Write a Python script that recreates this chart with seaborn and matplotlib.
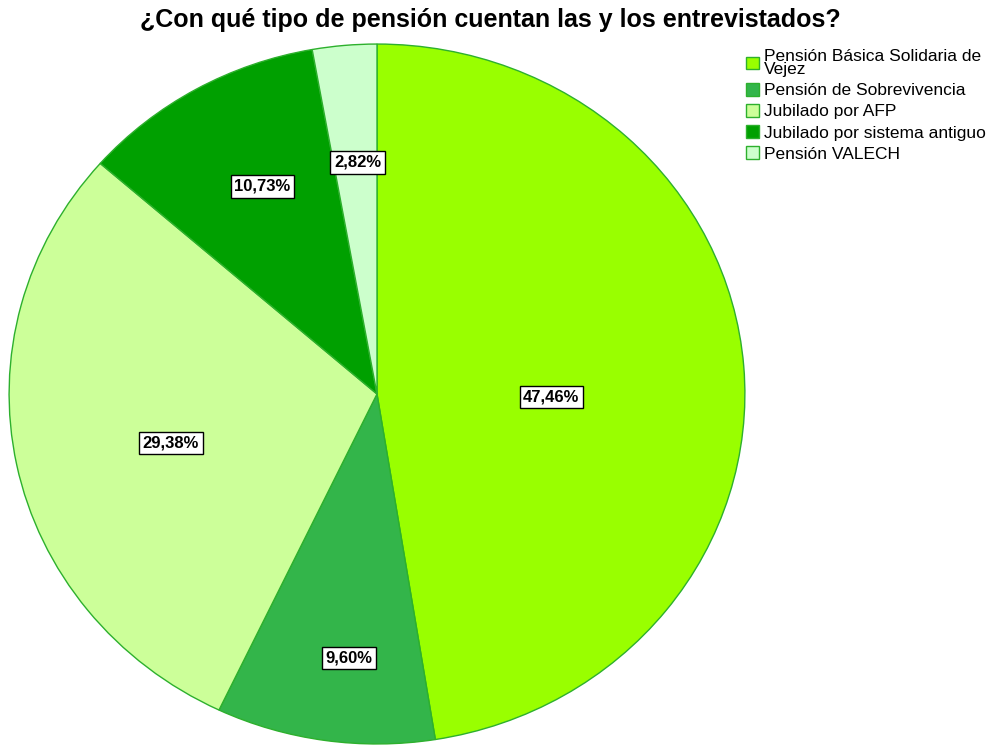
import matplotlib
matplotlib.use("Agg")
import matplotlib.pyplot as plt
import seaborn as sns
import numpy as np

categories = ["Pensión Básica Solidaria de\nVejez", "Pensión de Sobrevivencia",
              "Jubilado por AFP", "Jubilado por sistema antiguo", "Pensión VALECH"]
values = [47.46, 9.60, 29.38, 10.73, 2.82]
colors = ["#99FF00", "#33B54A", "#CCFF99", "#00A000", "#CCFFCC"]
# label placement (radius, angle offset from wedge middle, degrees)
label_radius = [0.474, 0.759, 0.578, 0.670, 0.664]
label_angle_shift = [-5.6, 2.4, 2.3, -1.75, -0.55]

sns.set_theme(style="white")
plt.rcParams['font.family'] = ['Liberation Sans', 'DejaVu Sans']
plt.rcParams['text.color'] = 'black'

fig = plt.figure(figsize=(9.87, 7.47), dpi=100)
ax = fig.add_axes([8/987, 2/747, 738/987, 702/747])

wedges, _ = ax.pie(values, colors=colors, startangle=90, counterclock=False,
                   wedgeprops=dict(edgecolor="#2DB02D", linewidth=1.0))
ax.set_aspect('auto')
ax.set_xlim(-1.003, 1.003)
ax.set_ylim(-1.003, 1.003)
ax.axis('off')

for w, v, r, s in zip(wedges, values, label_radius, label_angle_shift):
    ang = np.deg2rad((w.theta1 + w.theta2) / 2 + s)
    ax.text(r*np.cos(ang), r*np.sin(ang), f"{v:.2f}%".replace('.', ','),
            ha='center', va='center', fontsize=12, fontweight='bold', color='black',
            bbox=dict(boxstyle='square,pad=0.22', facecolor='white', edgecolor='black', linewidth=1))

fig.text(490/987, 1 - 20/747, "¿Con qué tipo de pensión cuentan las y los entrevistados?",
         ha='center', va='center', fontsize=18, fontweight='bold', color='black')

leg = fig.legend(wedges, categories, loc='upper left', bbox_to_anchor=(746/987, 1 - 49/747),
                 frameon=False, fontsize=12.5, handlelength=0.75, handleheight=0.75,
                 handletextpad=0.3, labelspacing=0.33, borderpad=0, borderaxespad=0)
for t in leg.get_texts():
    t.set_color('black')
leg.get_texts()[0].set_linespacing(0.85)

fig.savefig("out.png", dpi=100)
